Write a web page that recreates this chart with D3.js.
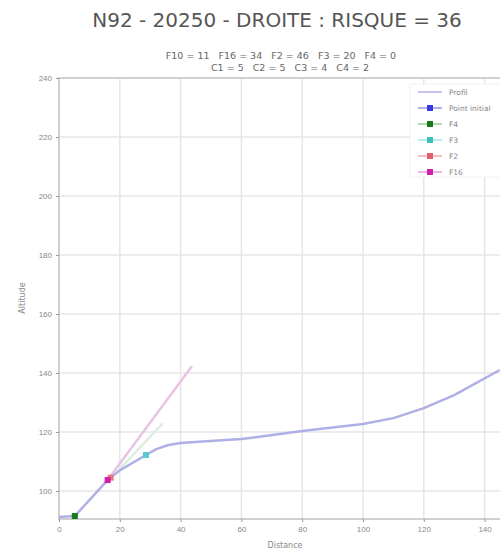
<!DOCTYPE html>
<html>
<head>
<meta charset="utf-8">
<script src="https://cdn.jsdelivr.net/npm/d3@7"></script>
<style>
  body { margin: 0; background: #fff; }
  svg { font-family: "DejaVu Sans", sans-serif; }
</style>
</head>
<body>
<div id="chart"></div>
<script>
// profile (distance, altitude)
const profileX = [0, 5.2, 16, 20, 28.6, 32, 36, 40, 46, 60, 80, 100, 110, 120, 130, 145];
const profileY = [91.2, 91.5, 103.7, 107, 112.2, 114.2, 115.6, 116.3, 116.7, 117.6, 120.3, 122.7, 124.7, 128.1, 132.5, 141];

const markerNames = ["F4", "F3", "F2", "F16"];
const markerX = [5.2, 28.6, 17, 16];
const markerY = [91.5, 112.2, 104.5, 103.7];

// slope lines
const pinkX = [16, 43.7];
const pinkY = [103.7, 142.3];
const greenX = [20, 34.2];
const greenY = [107.5, 123];

const xTicks = [0, 20, 40, 60, 80, 100, 120, 140];
const yTicks = [100, 120, 140, 160, 180, 200, 220, 240];

const legendLabels = ["Profil", "Point initial", "F4", "F3", "F2", "F16"];

const width = 500, height = 551;
const margin = { top: 78, right: -1, bottom: 32, left: 59 };

const svg = d3.select("#chart").append("svg")
  .attr("width", width)
  .attr("height", height);

const x = d3.scaleLinear().domain([0, 145.4]).range([margin.left, width - margin.right]);
const y = d3.scaleLinear().domain([90.5, 240]).range([height - margin.bottom, margin.top]);

// grid
svg.append("g")
  .selectAll("line")
  .data(xTicks)
  .join("line")
  .attr("x1", d => x(d)).attr("x2", d => x(d))
  .attr("y1", margin.top).attr("y2", height - margin.bottom)
  .attr("stroke", "#e6e6e6").attr("stroke-width", 1.5);

svg.append("g")
  .selectAll("line")
  .data(yTicks)
  .join("line")
  .attr("x1", margin.left).attr("x2", width)
  .attr("y1", d => y(d)).attr("y2", d => y(d))
  .attr("stroke", "#e6e6e6").attr("stroke-width", 1.5);

// frame
svg.append("rect")
  .attr("x", margin.left).attr("y", margin.top)
  .attr("width", x(145.4) - margin.left + 2)
  .attr("height", height - margin.bottom - margin.top)
  .attr("fill", "none").attr("stroke", "#d0d0d0").attr("stroke-width", 2);

// axes
const xAxis = svg.append("g")
  .attr("transform", `translate(0,${height - margin.bottom})`)
  .call(d3.axisBottom(x).tickValues(xTicks).tickSize(3).tickPadding(4));
const yAxis = svg.append("g")
  .attr("transform", `translate(${margin.left},0)`)
  .call(d3.axisLeft(y).tickValues(yTicks).tickSize(3).tickPadding(4));
[xAxis, yAxis].forEach(a => {
  a.select(".domain").remove();
  a.selectAll(".tick line").attr("stroke", "#999");
  a.selectAll(".tick text").attr("fill", "#888").attr("font-size", 8);
});

svg.append("text")
  .attr("x", 285).attr("y", 548)
  .attr("text-anchor", "middle").attr("font-size", 8).attr("fill", "#888")
  .text("Distance");
svg.append("text")
  .attr("transform", "translate(25,298) rotate(-90)")
  .attr("text-anchor", "middle").attr("font-size", 8).attr("fill", "#888")
  .text("Altitude");

// titles
svg.append("text")
  .attr("x", 277).attr("y", 27)
  .attr("text-anchor", "middle").attr("font-size", 20).attr("fill", "#555")
  .text("N92 - 20250 - DROITE : RISQUE = 36");
svg.append("text")
  .attr("x", 281).attr("y", 59)
  .attr("text-anchor", "middle").attr("font-size", 9.5).attr("fill", "#666")
  .attr("xml:space", "preserve").style("white-space", "pre")
  .text("F10 = 11   F16 = 34   F2 = 46   F3 = 20   F4 = 0");
svg.append("text")
  .attr("x", 290).attr("y", 71)
  .attr("text-anchor", "middle").attr("font-size", 9.5).attr("fill", "#666")
  .attr("xml:space", "preserve").style("white-space", "pre")
  .text("C1 = 5   C2 = 5   C3 = 4   C4 = 2");

const line = d3.line().x(d => x(d[0])).y(d => y(d[1]));

const plot = svg.append("g");
plot.append("path")
  .datum(pinkX.map((d, i) => [d, pinkY[i]]))
  .attr("d", line).attr("fill", "none")
  .attr("stroke", "#e8c4e4").attr("stroke-width", 2.5);
plot.append("path")
  .datum(greenX.map((d, i) => [d, greenY[i]]))
  .attr("d", line).attr("fill", "none")
  .attr("stroke", "#dcefe0").attr("stroke-width", 2.5);
plot.append("path")
  .datum(profileX.map((d, i) => [d, profileY[i]]))
  .attr("d", line).attr("fill", "none")
  .attr("stroke", "#aeb0e6").attr("stroke-width", 2.5)
  .attr("stroke-linejoin", "round");

const markerColor = { F4: "#1a7a1a", F3: "#5cc8d0", F2: "#e87880", F16: "#d020a8" };
plot.selectAll(".mk")
  .data(markerNames.map((n, i) => ({ n, x: markerX[i], y: markerY[i] })))
  .join("rect")
  .attr("x", d => x(d.x) - 3).attr("y", d => y(d.y) - 3)
  .attr("width", 6).attr("height", 6)
  .attr("fill", d => markerColor[d.n]);

// legend
const legendColor = ["#b8b8ec", "#3a3ae0", "#1a7a1a", "#40c0b8", "#e06070", "#d020a8"];
const legendFaint = ["#c4c4f0", "#b0b0f0", "#b0dcb0", "#b8eee8", "#f4c0c4", "#ecb8e8"];
const lg = svg.append("g").attr("transform", "translate(410,84)");
lg.append("rect").attr("x", 0).attr("y", 0).attr("width", 95).attr("height", 93)
  .attr("fill", "#fff").attr("stroke", "#f2f2f2");
legendLabels.forEach((t, i) => {
  const yy = 8 + i * 16;
  lg.append("line").attr("x1", 8).attr("x2", 32).attr("y1", yy).attr("y2", yy)
    .attr("stroke", legendFaint[i]).attr("stroke-width", 2);
  if (i > 0) {
    lg.append("rect").attr("x", 17).attr("y", yy - 3).attr("width", 6).attr("height", 6)
      .attr("fill", legendColor[i]);
  }
  lg.append("text").attr("x", 39).attr("y", yy + 3)
    .attr("font-size", 7.5).attr("fill", "#888").text(t);
});
</script>
</body>
</html>
